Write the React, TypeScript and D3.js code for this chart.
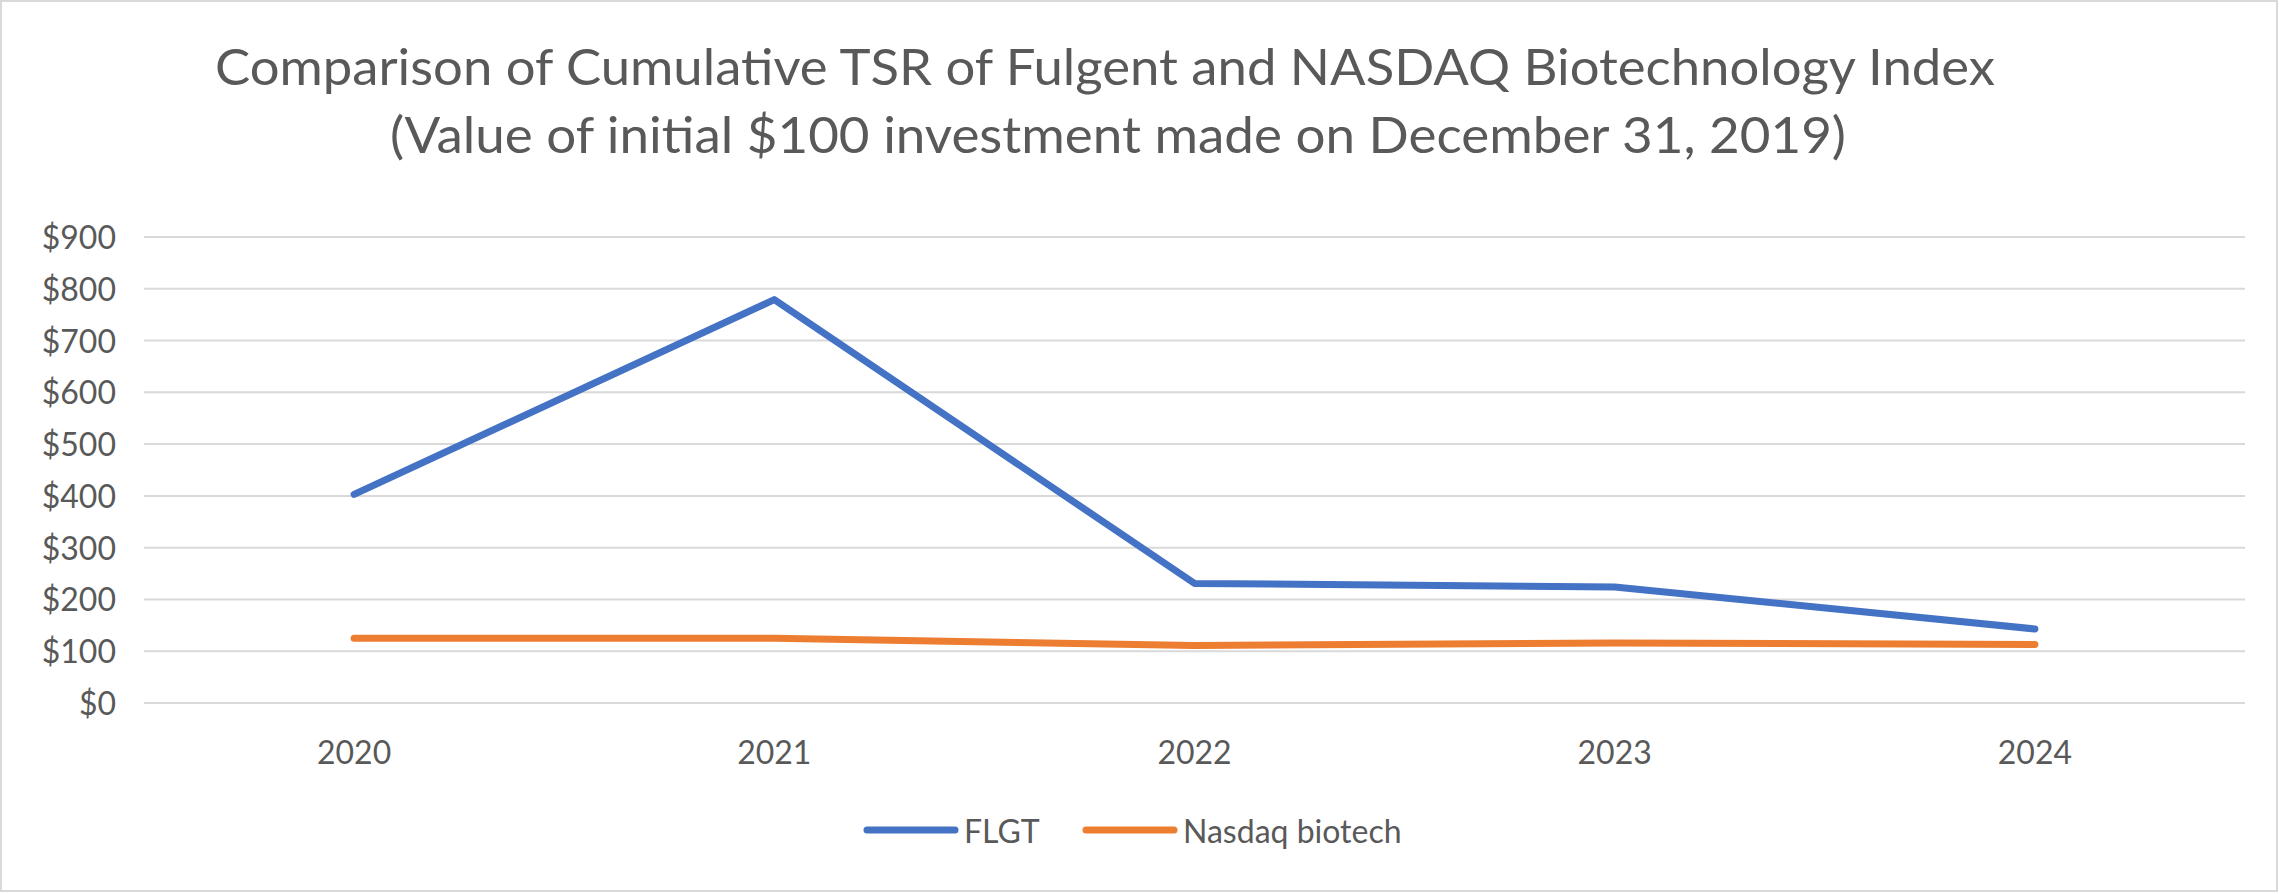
import React, { useRef, useEffect } from "react";
import * as d3 from "d3";

// chart data
const years: string[] = ["2020", "2021", "2022", "2023", "2024"];
const flgtValues: number[] = [403, 779, 231, 224, 143];
const nasdaqValues: number[] = [125, 125, 111, 116, 113];
const yTicks: number[] = [0, 100, 200, 300, 400, 500, 600, 700, 800, 900];
const seriesNames: string[] = ["FLGT", "Nasdaq biotech"];
const titleLines: string[] = [
  "Comparison of Cumulative TSR of Fulgent and NASDAQ Biotechnology Index",
  "(Value of initial $100 investment made on December 31, 2019)",
];

const colors = ["#4472C4", "#ED7D31"];
const textColor = "#595959";
const gridColor = "#D9D9D9";
const font = "Lato, 'Open Sans', sans-serif";

const App: React.FC = () => {
  const d3Container = useRef<HTMLDivElement>(null);

  const drawChart = () => {
    const width = 2279;
    const height = 894;
    const plot = { left: 144, right: 2245, top: 237, bottom: 703 };

    // Clear any existing SVG
    d3.select(d3Container.current).selectChildren().remove();

    const svg = d3
      .select(d3Container.current)
      .append("svg")
      .attr("width", width)
      .attr("height", height)
      .style("display", "block")
      .style("font-family", font);

    svg
      .append("rect")
      .attr("x", 1)
      .attr("y", 1)
      .attr("width", width - 3)
      .attr("height", height - 4)
      .attr("fill", "#fff")
      .attr("stroke", gridColor)
      .attr("stroke-width", 2);

    // Title
    const titleX = [1105, 1118];
    const titleW = [1780, 1456];
    titleLines.forEach((t, i) => {
      svg
        .append("text")
        .attr("x", titleX[i])
        .attr("y", 85 + i * 68)
        .attr("text-anchor", "middle")
        .attr("fill", textColor)
        .attr("font-size", 51)
        .attr("textLength", titleW[i])
        .attr("lengthAdjust", "spacingAndGlyphs")
        .text(t);
    });

    // Scales
    const x = d3
      .scaleBand()
      .domain(years)
      .range([plot.left, plot.right]);

    const y = d3
      .scaleLinear()
      .domain([0, 900])
      .range([plot.bottom, plot.top]);

    // Gridlines
    svg
      .append("g")
      .selectAll("line")
      .data(yTicks)
      .join("line")
      .attr("x1", plot.left)
      .attr("x2", plot.right)
      .attr("y1", (d) => y(d))
      .attr("y2", (d) => y(d))
      .attr("stroke", gridColor)
      .attr("stroke-width", 2);

    // Y labels
    svg
      .append("g")
      .selectAll("text")
      .data(yTicks)
      .join("text")
      .attr("x", 116)
      .attr("y", (d) => y(d) + 12)
      .attr("text-anchor", "end")
      .attr("fill", textColor)
      .attr("font-size", 32)
      .text((d) => d3.format("$,")(d));

    // X labels
    svg
      .append("g")
      .selectAll("text")
      .data(years)
      .join("text")
      .attr("x", (d) => x(d)! + x.bandwidth() / 2)
      .attr("y", 764)
      .attr("text-anchor", "middle")
      .attr("fill", textColor)
      .attr("font-size", 32)
      .text((d) => d);

    // Lines
    const line = d3
      .line<number>()
      .x((_, i) => x(years[i])! + x.bandwidth() / 2)
      .y((d) => y(d));

    [flgtValues, nasdaqValues].forEach((vals, i) => {
      svg
        .append("path")
        .datum(vals)
        .attr("fill", "none")
        .attr("stroke", colors[i])
        .attr("stroke-width", 7)
        .attr("stroke-linecap", "round")
        .attr("stroke-linejoin", "round")
        .attr("d", line);
    });

    // Legend
    const legendX = [867, 1086];
    seriesNames.forEach((name, i) => {
      const g = svg.append("g").attr("transform", `translate(${legendX[i]},830)`);
      g.append("line")
        .attr("x1", 0)
        .attr("x2", 88)
        .attr("stroke", colors[i])
        .attr("stroke-width", 7)
        .attr("stroke-linecap", "round");
      g.append("text")
        .attr("x", 97)
        .attr("y", 13)
        .attr("fill", textColor)
        .attr("font-size", 32)
        .text(name);
    });
  };

  useEffect(() => {
    document.body.style.margin = "0";
    if (d3Container.current) {
      drawChart();
    }
  }, []);

  return <div ref={d3Container} />;
};

export default App;
